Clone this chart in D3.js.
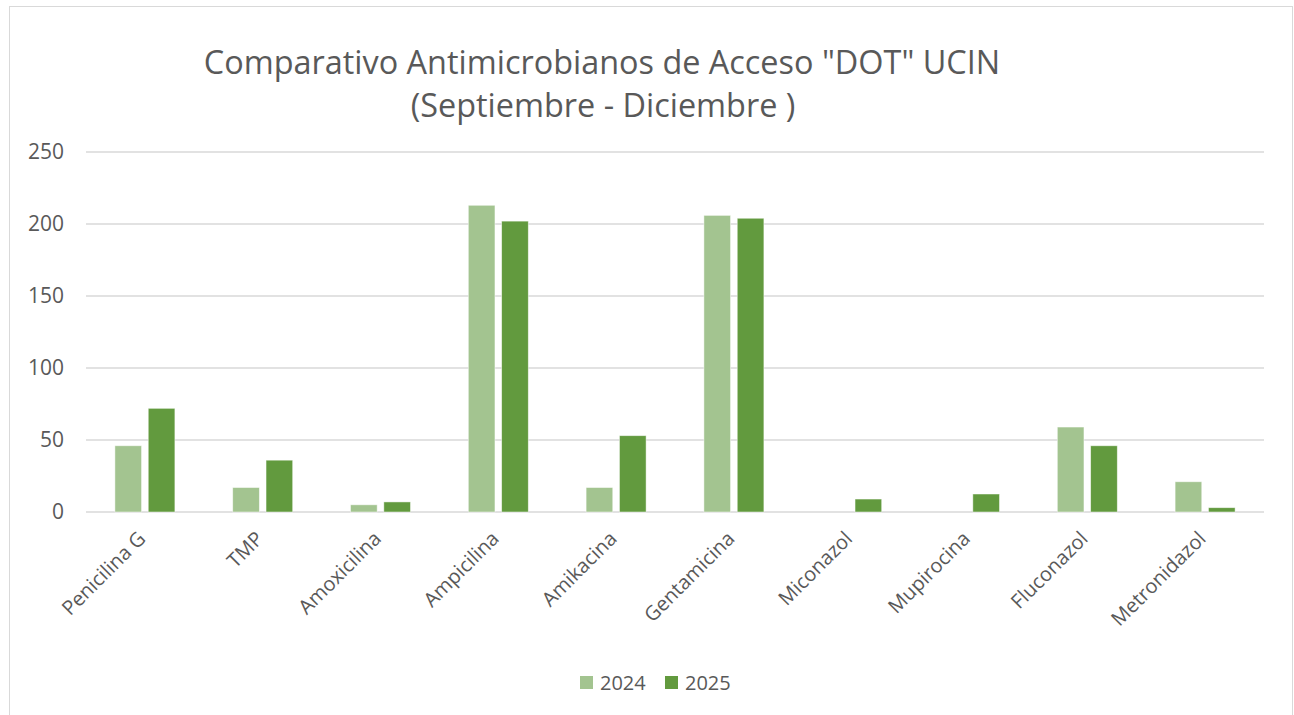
<!DOCTYPE html>
<html>
<head>
<meta charset="utf-8">
<script src="https://cdn.jsdelivr.net/npm/d3@7"></script>
<style>
  html, body { margin: 0; padding: 0; background: #fff; }
  svg { display: block; font-family: "Open Sans", "Noto Sans", sans-serif; }
</style>
</head>
<body>
<svg id="chart" width="1294" height="715"></svg>
<script>
const categories = ["Penicilina G", "TMP", "Amoxicilina", "Ampicilina", "Amikacina",
                    "Gentamicina", "Miconazol", "Mupirocina", "Fluconazol", "Metronidazol"];
const seriesNames = ["2024", "2025"];
const values2024 = [46, 17, 5, 213, 17, 206, 0, 0, 59, 21];
const values2025 = [72, 36, 7, 202, 53, 204, 9, 12.5, 46, 3];
const yTicks = [0, 50, 100, 150, 200, 250];
const titleLines = ["Comparativo Antimicrobianos de Acceso \"DOT\" UCIN", "(Septiembre - Diciembre )"];
const colors = ["#A3C490", "#629A3E"];

const seriesValues = [values2024, values2025];
const svg = d3.select("#chart");
const textColor = "#595959";

// outer frame
svg.append("rect").attr("x", 9.5).attr("y", 6.5).attr("width", 1283).attr("height", 720)
  .attr("fill", "#fff").attr("stroke", "#d9d9d9").attr("stroke-width", 1);

const x = d3.scaleBand().domain(categories).range([86, 1264]).paddingInner(0).paddingOuter(0);
const groupW = 60;
const xs = d3.scaleBand().domain(seriesNames).range([0, groupW]).paddingInner(0.2);
const y = d3.scaleLinear().domain([0, 250]).range([512, 152]);

// gridlines
svg.append("g").selectAll("line").data(yTicks).join("line")
  .attr("x1", 86).attr("x2", 1264)
  .attr("y1", d => y(d)).attr("y2", d => y(d))
  .attr("stroke", "#d9d9d9").attr("stroke-width", 1.3);

// y tick labels
svg.append("g").selectAll("text").data(yTicks).join("text")
  .attr("x", 64).attr("y", d => y(d)).attr("dy", "0.35em")
  .attr("text-anchor", "end").attr("fill", textColor)
  .attr("font-size", 21).text(d => d);

// bars
const groups = svg.append("g").selectAll("g").data(categories).join("g")
  .attr("transform", c => `translate(${x(c) + (x.bandwidth() - groupW) / 2},0)`);
groups.selectAll("rect").data((c, i) => seriesNames.map((s, k) => ({s, k, v: seriesValues[k][i]})))
  .join("rect")
  .filter(d => d.v > 0)
  .attr("x", d => xs(d.s)).attr("width", xs.bandwidth())
  .attr("y", d => y(d.v)).attr("height", d => y(0) - y(d.v))
  .attr("fill", d => colors[d.k])
  .attr("stroke", "#ffffff").attr("stroke-opacity", 0.6).attr("stroke-width", 0.8);

// category labels
svg.append("g").selectAll("text").data(categories).join("text")
  .attr("transform", c => `translate(${x(c) + x.bandwidth() / 2 - 8},530) rotate(-45)`)
  .attr("text-anchor", "end").attr("dy", "0.7em")
  .attr("fill", textColor).attr("font-size", 20).text(c => c);

// title
const title = svg.append("g");
const t1 = title.append("text").attr("x", 602).attr("y", 74).attr("text-anchor", "middle")
  .attr("fill", textColor).attr("font-size", 30).text(titleLines[0]);
const len = t1.node().getComputedTextLength();
const fs = 30 * 797 / len;
t1.attr("font-size", fs);
title.append("text").attr("x", 603).attr("y", 117).attr("text-anchor", "middle")
  .attr("fill", textColor).attr("font-size", fs).text(titleLines[1]);

// legend
const legend = svg.append("g");
const legendX = [580, 665];
seriesNames.forEach((s, k) => {
  legend.append("rect").attr("x", legendX[k]).attr("y", 676).attr("width", 13).attr("height", 13)
    .attr("fill", colors[k]);
  legend.append("text").attr("x", legendX[k] + 20).attr("y", 690)
    .attr("fill", textColor).attr("font-size", 20).text(s);
});
</script>
</body>
</html>
